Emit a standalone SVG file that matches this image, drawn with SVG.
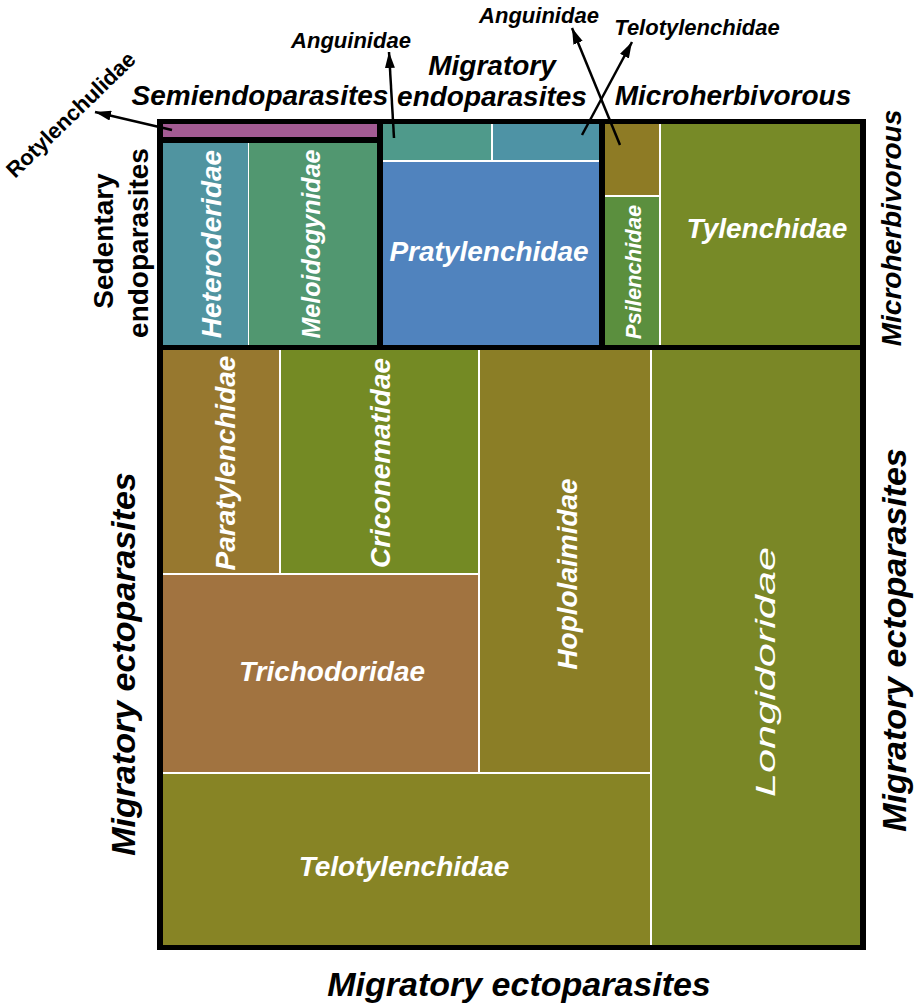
<svg xmlns="http://www.w3.org/2000/svg" width="921" height="1006" viewBox="0 0 921 1006">
<defs>
<marker id="ah" viewBox="0 0 16 10" refX="16" refY="5" markerWidth="16" markerHeight="10" markerUnits="userSpaceOnUse" orient="auto">
<path d="M0,0 L16,5 L0,10 z" fill="#000"/>
</marker>
<style>
text{font-family:"Liberation Sans",Arial,sans-serif;font-weight:bold;font-style:italic;text-anchor:middle}
.lab{fill:#000}
.in{fill:#fff;font-size:28px}
.s22{font-size:22px}
.s28{font-size:28px}
.s34{font-size:34px}
.up{font-style:normal}
.arr{stroke:#000;stroke-width:2.5;fill:none;marker-end:url(#ah)}
</style>
</defs>
<rect width="921" height="1006" fill="#fff"/>
<!-- frame -->
<rect x="157" y="119" width="709" height="831" fill="#000"/>
<rect x="163" y="124" width="214" height="13" fill="#fff"/>
<rect x="163" y="143" width="214" height="202" fill="#fff"/>
<rect x="383" y="124" width="216" height="221" fill="#fff"/>
<rect x="605" y="124" width="255" height="221" fill="#fff"/>
<rect x="163" y="350" width="697" height="595" fill="#fff"/>

<g id="rotylenchulidae-cell"><rect x="163" y="124" width="214" height="13" fill="#A35B93"/></g>
<g id="heteroderidae"><rect x="163" y="143" width="85" height="202" fill="#5094A0"/>
<text class="in" transform="translate(221,244) rotate(-90)">Heteroderidae</text></g>
<g id="meloidogynidae"><rect x="249" y="143" width="128" height="202" fill="#519770"/>
<text class="in" style="font-size:25px" transform="translate(320,244) rotate(-90)">Meloidogynidae</text></g>

<g id="anguinidae-cell"><rect x="383" y="124" width="108" height="36" fill="#4F9A8B"/></g>
<g id="telotylenchidae-cell"><rect x="493" y="124" width="106" height="36" fill="#4E93A5"/></g>
<g id="pratylenchidae"><rect x="383" y="162" width="216" height="183" fill="#5083BE"/>
<text class="in" x="489" y="261">Pratylenchidae</text></g>

<g id="anguinidae-micro-cell"><rect x="605" y="124" width="54" height="71" fill="#8E7B25"/></g>
<g id="psilenchidae"><rect x="605" y="197" width="54" height="148" fill="#5B8F3E"/>
<text class="in" style="font-size:22px" transform="translate(641,272) rotate(-90)">Psilenchidae</text></g>
<g id="tylenchidae"><rect x="661" y="124" width="199" height="221" fill="#778A27"/>
<text class="in" x="767" y="238">Tylenchidae</text></g>

<g id="paratylenchidae"><rect x="163" y="350" width="116" height="223" fill="#97782F"/>
<text class="in" transform="translate(235,463) rotate(-90)">Paratylenchidae</text></g>
<g id="criconematidae"><rect x="281" y="350" width="197" height="223" fill="#748A24"/>
<text class="in" transform="translate(390,463) rotate(-90)">Criconematidae</text></g>
<g id="trichodoridae"><rect x="163" y="575" width="315" height="197" fill="#A17340"/>
<text class="in" x="332" y="681">Trichodoridae</text></g>
<g id="hoplolaimidae"><rect x="480" y="350" width="170" height="422" fill="#8B7E26"/>
<text class="in" transform="translate(577,574) rotate(-90)">Hoplolaimidae</text></g>
<g id="telotylenchidae"><rect x="163" y="774" width="487" height="171" fill="#878425"/>
<text class="in" x="404" y="876">Telotylenchidae</text></g>
<g id="longidoridae"><rect x="652" y="350" width="208" height="595" fill="#7A8726"/>
<text class="in" style="font-weight:normal" textLength="250" lengthAdjust="spacingAndGlyphs" transform="translate(775,672) rotate(-90)">Longidoridae</text></g>

<g id="labels">
<text class="lab s22 up" transform="translate(76,120) rotate(-44)">Rotylenchulidae</text>
<text class="lab s22" x="351" y="48">Anguinidae</text>
<text class="lab s22" x="539" y="23">Anguinidae</text>
<text class="lab s22" x="697" y="35">Telotylenchidae</text>
<text class="lab s28" x="260" y="105">Semiendoparasites</text>
<text class="lab s28" x="492" y="75">Migratory</text>
<text class="lab s28" x="492" y="106">endoparasites</text>
<text class="lab s28" x="733" y="105">Microherbivorous</text>
<text class="lab s28" transform="translate(901,228) rotate(-90)">Microherbivorous</text>
<text class="lab s28 up" transform="translate(113,241) rotate(-90)">Sedentary</text>
<text class="lab s28 up" transform="translate(148,243) rotate(-90)">endoparasites</text>
<text class="lab s34" transform="translate(135,664) rotate(-90)">Migratory ectoparasites</text>
<text class="lab s34" transform="translate(906,640) rotate(-90)">Migratory ectoparasites</text>
<text class="lab s34" x="519" y="996">Migratory ectoparasites</text>
</g>

<g id="connectors">
<path class="arr" d="M172,130 L95,112"/>
<path class="arr" d="M394,138 L389,52"/>
<path class="arr" d="M620,145 L572,28"/>
<path class="arr" d="M582,135 L632,42"/>
</g>
</svg>
